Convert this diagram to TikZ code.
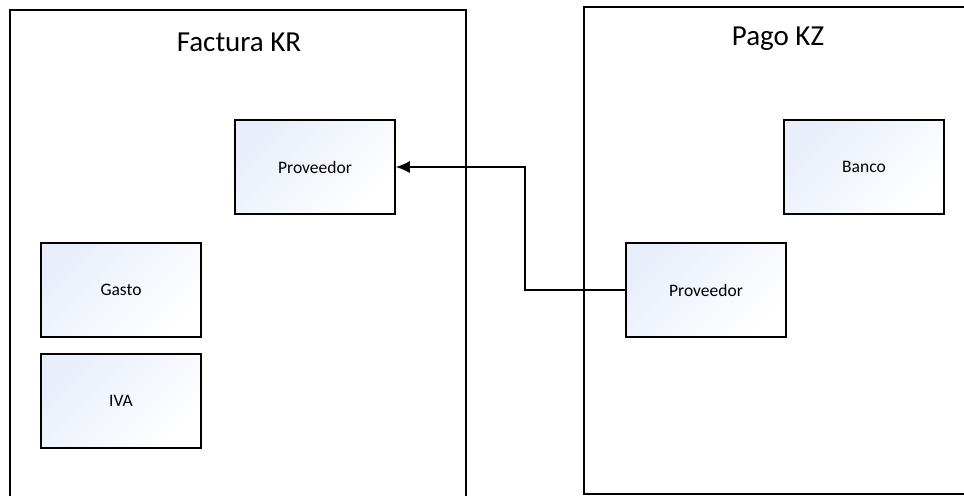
\documentclass[tikz,border=0pt]{standalone}
\usepackage{fontspec}
\setmainfont{Carlito}
\usepackage{tikz}
\definecolor{kastenblau}{RGB}{232, 238, 250}
\usetikzlibrary{arrows.meta}

\begin{document}
\begin{tikzpicture}[kasten/.style={draw, line width=1.5pt, minimum width=160, minimum height=94, inner sep=0pt,
				top color=kastenblau, bottom color=white, shading angle=45, font=\fontsize{17.5}{21}\selectfont},
				titel/.style={font=\fontsize{29}{34}\selectfont},
				x=1pt, y=-1pt,
				>={Latex[length=14pt, width=12pt]},   %Pfeilspitzen
				line width=1.5pt]
				\useasboundingbox (0,0) rectangle (964,496);
				% Rahmen zeichnen
				\draw (10,496) -- (10,10) -- (466,10) -- (466,496);
				\draw (964,7) -- (584,7) -- (584,494) -- (964,494);
				\node[titel] (factura) at (239,42) {Factura KR};
				\node[titel] (pago) at (778,39) {Pago KZ};
				% Kaesten
				\node[kasten] (provKR) at (315,167) {Proveedor};
				\node[kasten] (gasto) at (121,290) {Gasto};
				\node[kasten] (iva) at (121,401) {IVA};
				\node[kasten] (banco) at (864,167) {Banco};
				\node[kasten] (provKZ) at (706,290) {Proveedor};
				% Verbindung
				\draw[->] (provKZ.west) -| (525,167) -- (provKR.east);
\end{tikzpicture}
\end{document}
